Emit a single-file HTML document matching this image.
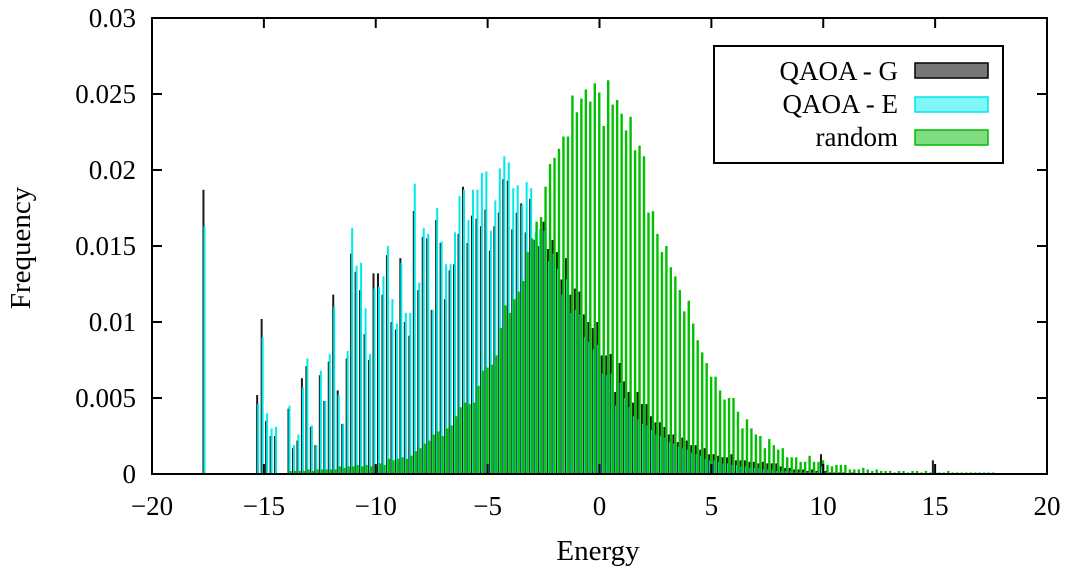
<!DOCTYPE html>
<html><head><meta charset="utf-8"><style>
html,body{margin:0;padding:0;background:#fff;}
svg{display:block;font-family:"Liberation Serif",serif;}
</style></head><body>
<svg id="chart" width="1065" height="570" viewBox="0 0 1065 570" xmlns="http://www.w3.org/2000/svg">
<g id="bars"></g>
<g id="axes"></g>
<text x="598" y="560" font-size="29" text-anchor="middle">Energy</text>
<text transform="translate(30,248) rotate(-90)" font-size="29" text-anchor="middle">Frequency</text>
<g>
<rect x="714" y="46" width="289" height="117" fill="#fff" stroke="#000" stroke-width="2"/>
<g>
<text x="898" y="80" font-size="27" text-anchor="end">QAOA - G</text>
<rect x="915" y="63" width="73" height="15" fill="#777" stroke="#000" stroke-width="1.5"/></g>
<g>
<text x="898" y="113" font-size="27" text-anchor="end">QAOA - E</text>
<rect x="915" y="97" width="73" height="15" fill="#80f6f6" stroke="#00e6e6" stroke-width="1.5"/></g>
<g>
<text x="898" y="146" font-size="27" text-anchor="end">random</text>
<rect x="915" y="130" width="73" height="15" fill="#80dc80" stroke="#00bb00" stroke-width="1.5"/></g>
</g>
</svg>
<script>
// bin layout
const binStart = -17.7;
const binStep = 0.2;
// QAOA - G frequencies per bin
const qaoaG = [.0187,0,0,0,0,0,0,0,0,0,0,0,
.0052,.0102,.0035,.0025,.0025,0,0,.0043,.0017,.0022,.0063,.0071,.0031,.0019,.0065,.0048,.0074,.0118,
.0055,.0033,.0076,.0145,.0133,.0121,.0092,.0075,.0132,.0132,.0118,.0144,.0100,.0095,.0142,.0100,.0091,.0173,.0121,.0156,
.0155,.0108,.0167,.0152,.0115,.0134,.0138,.0158,.0189,.0152,.0170,.0168,.0163,.0174,.0147,.0163,.0172,.0194,.0193,.0161,
.0172,.0178,.0159,.0181,.0154,.0150,.0166,.0148,.0154,.0146,.0128,.0142,.0118,.0122,.0120,.0105,.0100,.0096,.0100,.0078,
.0078,.0079,.0054,.0073,.0061,.0054,.0047,.0054,.0046,.0046,.0038,.0034,.0034,.0031,.0026,.0026,.0021,.0024,.0022,.0019,
.0019,.0016,.0017,.0013,.0013,.0012,.0011,.0011,.0013,.0009,.0009,.0009,.0008,.0008,.0007,.0008,.0007,.0007,.0007,.0005,
.0004,.0004,.0003,.0003,.0003,.0002,.0003,.0002,.0013,.0002,.0001,.0001,.0001,.0001,0,.0001,0,0,0,0,
0,0,0,0,0,0,0,0,0,0,0,0,0,.0009,0,0,0,0,0,0,0,0,0,0,0,0,0];
// QAOA - E frequencies per bin
const qaoaE = [.0163,0,0,0,0,0,0,0,0,0,0,0,
.0046,.0090,.0040,.0030,.0031,0,0,.0045,.0019,.0026,.0057,.0076,.0032,.0019,.0068,.0048,.0079,.0110,
.0052,.0033,.0081,.0162,.0137,.0139,.0109,.0079,.0122,.0123,.0130,.0150,.0115,.0099,.0139,.0106,.0106,.0191,.0126,.0162,
.0158,.0108,.0175,.0153,.0138,.0138,.0159,.0183,.0187,.0167,.0187,.0187,.0198,.0199,.0160,.0180,.0201,.0209,.0205,.0188,
.0190,.0177,.0192,.0188,.0159,.0161,.0160,.0140,.0145,.0135,.0118,.0128,.0106,.0108,.0105,.0090,.0087,.0082,.0085,.0066,
.0065,.0066,.0045,.0060,.0050,.0044,.0038,.0036,.0033,.0032,.0029,.0026,.0025,.0024,.0021,.0020,.0018,.0017,.0016,.0014,
.0013,.0012,.0010,.0009,.0009,.0008,.0007,.0007,.0006,.0006,.0005,.0005,.0004,.0004,.0004,.0003,.0003,.0003,.0002,.0002,
.0002,.0002,.0001,.0001,.0001,.0001,.0001,.0001,.0005,.0001,0,0,0,0,0,0,0,0,0,0,
0,0,0,0,0,0,0,0,0,0,0,0,0,0,0,0,0,0,0,0,0,0,0,0,0,0,0];
// random frequencies per bin
const randomF = [0,0,0,0,0,0,0,0,0,0,0,0,0,0,0,0,0,0,0,
.0002,.0002,.0002,.0002,.0003,.0002,.0003,.0003,.0003,.0003,.0003,
.0005,.0004,.0005,.0005,.0006,.0005,.0006,.0005,.0006,.0007,.0006,.0010,.0009,.0010,.0011,.0010,.0012,.0015,.0017,.0020,
.0022,.0026,.0028,.0025,.0030,.0032,.0038,.0044,.0047,.0046,.0047,.0058,.0068,.0070,.0072,.0078,.0096,.0111,.0106,.0115,
.0120,.0127,.0146,.0155,.0166,.0169,.0189,.0204,.0208,.0214,.0222,.0222,.0249,.0238,.0247,.0253,.0245,.0257,.0251,.0229,
.0259,.0243,.0246,.0237,.0226,.0235,.0213,.0216,.0209,.0172,.0173,.0158,.0146,.0150,.0136,.0130,.0121,.0107,.0114,.0099,
.0088,.0080,.0073,.0064,.0064,.0055,.0049,.0050,.0050,.0041,.0030,.0036,.0030,.0026,.0025,.0017,.0023,.0019,.0016,.0017,
.0011,.0011,.0011,.0008,.0008,.0012,.0008,.0008,.0009,.0006,.0005,.0006,.0006,.0006,.0003,.0003,.0003,.0004,.0003,.0002,
.0003,.0002,.0002,.0002,.0001,.0002,.0002,.0001,.0002,.0002,.0001,.0002,.0001,.0002,.0001,.0001,.0002,.0001,.0001,.0001,
.0001,.0001,.0001,.0001,.0001,.0001,.0001];
const xTicks = [-20,-15,-10,-5,0,5,10,15,20];
const xTickLabels = ["\u221220","\u221215","\u221210","\u22125","0","5","10","15","20"];
const yTicks = [0,0.005,0.01,0.015,0.02,0.025,0.03];
const yTickLabels = ["0","0.005","0.01","0.015","0.02","0.025","0.03"];

const L=152,R=1047,T=18,B=474;
const xMin=-20,xMax=20,yMin=0,yMax=0.03;
function xs(v){return L+(v-xMin)/(xMax-xMin)*(R-L);}
function ys(v){return B-(v-yMin)/(yMax-yMin)*(B-T);}
const NS="http://www.w3.org/2000/svg";
const bars=document.getElementById('bars');
function drawSeries(arr,off,w,color,name){
  arr.forEach((v,i)=>{
    if(!v) return;
    const e=binStart+binStep*i;
    const r=document.createElementNS(NS,'rect');
    const y=ys(v);
    r.setAttribute('x',(xs(e)+off-w/2).toFixed(2));
    r.setAttribute('y',y.toFixed(2));
    r.setAttribute('width',w);
    r.setAttribute('height',(B-y).toFixed(2));
    r.setAttribute('fill',color);
    
    
    bars.appendChild(r);
  });
}
drawSeries(qaoaG,0,2,'#1a1a1a','bar-qaoa-g');
drawSeries(qaoaE,1,2,'#00eaea','bar-qaoa-e');
drawSeries(randomF,2,2.4,'#00c000','bar-random');

const ax=document.getElementById('axes');
function line(x1,y1,x2,y2,name){
  const l=document.createElementNS(NS,'line');
  l.setAttribute('x1',x1);l.setAttribute('y1',y1);l.setAttribute('x2',x2);l.setAttribute('y2',y2);
  l.setAttribute('stroke','#000');l.setAttribute('stroke-width','2');
  
  
  ax.appendChild(l);
}
function text(x,y,s,anchor,name){
  const t=document.createElementNS(NS,'text');
  t.setAttribute('x',x);t.setAttribute('y',y);t.setAttribute('font-size','27');
  t.setAttribute('text-anchor',anchor);t.textContent=s;
  
  
  ax.appendChild(t);
}
const frame=document.createElementNS(NS,'rect');
frame.setAttribute('x',L);frame.setAttribute('y',T);frame.setAttribute('width',R-L);frame.setAttribute('height',B-T);
frame.setAttribute('fill','none');frame.setAttribute('stroke','#000');frame.setAttribute('stroke-width','2');


ax.appendChild(frame);
xTicks.forEach((v,i)=>{
  const x=xs(v);
  line(x,B,x,B-10,'x-tick');line(x,T,x,T+10,'x-tick-top');
  text(x,515,xTickLabels[i],'middle','x-tick-label');
});
yTicks.forEach((v,i)=>{
  const y=ys(v);
  line(L,y,L+10,y,'y-tick');line(R,y,R-10,y,'y-tick-right');
  text(136,y+9,yTickLabels[i],'end','y-tick-label');
});
</script>
</body></html>
